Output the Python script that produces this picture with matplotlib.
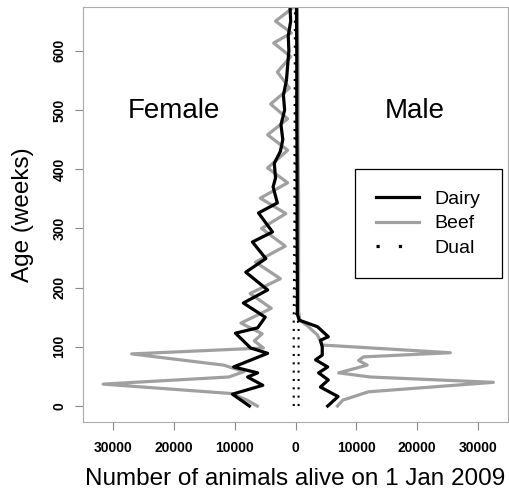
import matplotlib
matplotlib.use('Agg')
import matplotlib.pyplot as plt
from matplotlib.lines import Line2D
import numpy as np

plt.rcParams['font.family'] = ['Liberation Sans', 'DejaVu Sans']

# ages (weeks) and number of animals
age_f_dairy = [0, 20, 35, 49, 56, 66, 89, 98, 123, 132, 150, 174, 196, 226, 249, 277, 294,
               326, 343, 370, 385, 410, 430, 450, 475, 500, 525, 550, 575, 600, 625, 650, 672]
f_dairy = [7600, 10400, 5400, 7900, 6250, 10200, 4600, 7400, 9900, 6250, 5000, 8600, 4600,
           8200, 4900, 7100, 3800, 6100, 3000, 3700, 3300, 3500, 2500, 2100, 2400, 1800,
           2000, 1500, 1300, 1100, 1200, 800, 900]

age_f_beef = [0, 10, 21, 37, 49, 58, 69, 88, 98, 110, 122, 140, 165, 190, 215, 243, 270,
              300, 325, 351, 377, 402, 432, 458, 485, 510, 537, 564, 590, 613, 630, 650, 672]
f_beef = [6300, 8000, 10500, 31700, 11000, 8500, 11800, 27000, 5300, 6800, 5500, 9000, 4000,
          7500, 2500, 6600, 1700, 5600, 1600, 5800, 1300, 4600, 1300, 4600, 1300, 4100,
          1000, 3000, 800, 3600, 700, 3300, 500]

age_f_dual = [0, 140, 300, 500, 672]
f_dual = [300, 300, 200, 150, 100]

age_m_dairy = [0, 16, 32, 44, 56, 66, 78, 86, 100, 111, 117, 134, 145, 155, 200, 300, 400,
               500, 600, 672]
m_dairy = [5300, 7000, 4100, 5400, 3800, 5300, 3300, 4400, 4400, 4100, 5400, 3600, 600, 300,
           300, 250, 250, 200, 200, 150]

age_m_beef = [0, 10, 24, 40, 49, 56, 69, 77, 83, 90, 103, 120, 135, 145, 160, 250, 350, 450,
              550, 672]
m_beef = [6900, 7800, 12000, 32600, 12300, 7100, 11800, 10400, 11200, 25500, 4400, 3600,
          2000, 700, 500, 500, 500, 400, 400, 300]

age_m_dual = [0, 140, 150, 672]
m_dual = [500, 500, 100, 50]

xticks = [-30000, -20000, -10000, 0, 10000, 20000, 30000]
yticks = [0, 100, 200, 300, 400, 500, 600]

fig = plt.figure(figsize=(5.1, 4.93), dpi=100)
ax = fig.add_axes([0.163, 0.144, 0.833, 0.842])

black = '#000000'
grey = '#a0a0a0'
lw = 2.3

ax.plot(-np.array(f_beef), age_f_beef, color=grey, lw=lw)
ax.plot(np.array(m_beef), age_m_beef, color=grey, lw=lw)
ax.plot(-np.array(f_dairy), age_f_dairy, color=black, lw=lw)
ax.plot(np.array(m_dairy), age_m_dairy, color=black, lw=lw)
ax.plot(-np.array(f_dual), age_f_dual, color=black, lw=1.5, ls=(0, (1, 3)))
ax.plot(np.array(m_dual), age_m_dual, color=black, lw=1.5, ls=(0, (1, 3)))

ax.set_xlim(-35000, 35000)
ax.set_ylim(-27, 674)

ax.set_xticks(xticks)
ax.set_xticklabels([str(abs(v)) for v in xticks], fontsize=10, fontweight='bold')
ax.set_yticks(yticks)
ax.set_yticklabels([str(v) for v in yticks], fontsize=10, fontweight='bold',
                   rotation=90, va='center')
ax.tick_params(length=6, color='#888888')
ax.tick_params(axis='x', pad=8)
ax.tick_params(axis='y', pad=6)
for s in ax.spines.values():
    s.set_color('#aaaaaa')

ax.text(-20000, 498, 'Female', fontsize=20, ha='center', va='center')
ax.text(19700, 498, 'Male', fontsize=20, ha='center', va='center')

ax.set_xlabel('Number of animals alive on 1 Jan 2009', fontsize=17.5, labelpad=9)
ax.set_ylabel('Age (weeks)', fontsize=17.5, labelpad=13)

handles = [Line2D([], [], color=black, lw=2.3),
           Line2D([], [], color=grey, lw=2.3),
           Line2D([], [], color=black, lw=2.3, ls=(0, (1, 6)))]
leg = fig.legend(handles, ['Dairy', 'Beef', 'Dual'], loc='upper left',
                 bbox_to_anchor=(355 / 510, 1 - 169 / 493), borderaxespad=0,
                 fontsize=14, fancybox=False, framealpha=1, edgecolor='black',
                 handlelength=2.2, handletextpad=0.8, borderpad=1.1,
                 labelspacing=0.35)
leg.get_frame().set_linewidth(0.9)

fig.savefig('out.png', dpi=100)
